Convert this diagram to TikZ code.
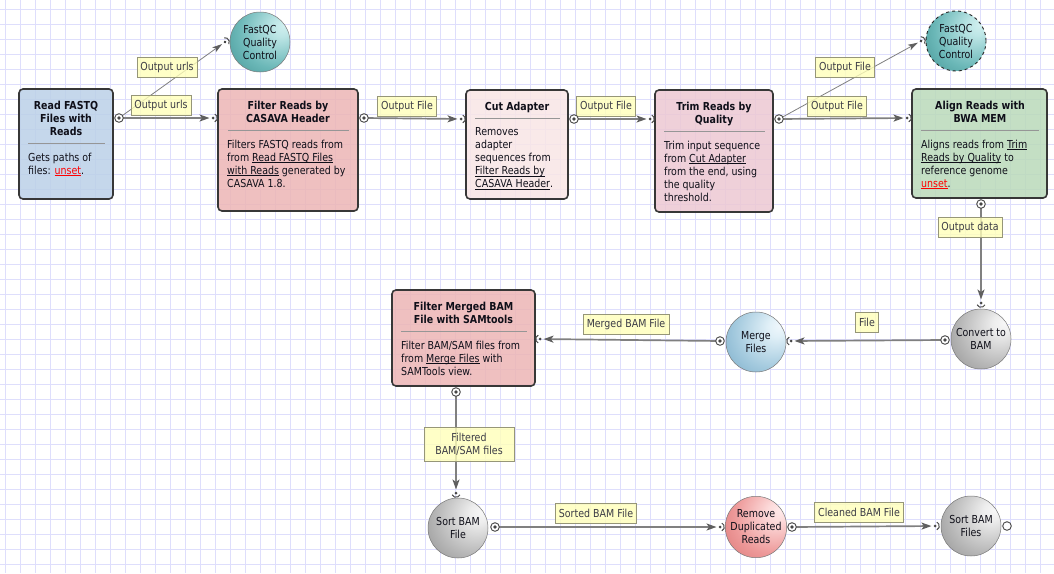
\documentclass[tikz,border=0pt]{standalone}
\usepackage{fontspec}
\setmainfont{DejaVu Sans}[FakeStretch=0.86]
\usetikzlibrary{arrows.meta,shapes.geometric}
\definecolor{gridc}{RGB}{222,222,252}
\definecolor{txt}{RGB}{15,15,25}
\definecolor{boxline}{RGB}{55,55,55}
\definecolor{sepc}{RGB}{150,150,150}
\definecolor{readfill}{RGB}{187,209,232}
\definecolor{casavafill}{RGB}{237,181,181}
\definecolor{cutfill}{RGB}{249,230,230}
\definecolor{trimfill}{RGB}{237,200,211}
\definecolor{alignfill}{RGB}{186,218,186}
\definecolor{connc}{RGB}{128,128,128}
\definecolor{arrowc}{RGB}{95,95,95}
\definecolor{lblfill}{RGB}{255,255,185}
\definecolor{lblline}{RGB}{150,150,120}
\definecolor{lbltxt}{RGB}{60,60,70}
\definecolor{portc}{RGB}{70,70,70}
\definecolor{ballline}{RGB}{120,120,120}
\definecolor{dashc}{RGB}{40,40,40}
\definecolor{unsetred}{RGB}{255,0,0}
\newcommand\lineunder[1]{\setbox0\hbox{#1}\rlap{\rule[-1.7pt]{\wd0}{0.6pt}}\box0\relax}
\pgfdeclareradialshading{grayball}{\pgfpoint{20bp}{14bp}}{rgb(0bp)=(0.97,0.97,0.97); rgb(8bp)=(0.93,0.93,0.93); rgb(30bp)=(0.72,0.72,0.72); rgb(55bp)=(0.5,0.5,0.5); rgb(76bp)=(0.36,0.36,0.36)}
\pgfdeclareradialshading{tealball}{\pgfpoint{20bp}{14bp}}{rgb(0bp)=(0.82,0.94,0.94); rgb(8bp)=(0.74,0.9,0.9); rgb(30bp)=(0.42,0.72,0.72); rgb(55bp)=(0.2,0.52,0.52); rgb(76bp)=(0.08,0.38,0.4)}
\pgfdeclareradialshading{blueball}{\pgfpoint{20bp}{14bp}}{rgb(0bp)=(0.94,0.97,0.99); rgb(8bp)=(0.88,0.94,0.97); rgb(30bp)=(0.64,0.79,0.87); rgb(55bp)=(0.4,0.62,0.75); rgb(76bp)=(0.25,0.5,0.63)}
\pgfdeclareradialshading{redball}{\pgfpoint{20bp}{14bp}}{rgb(0bp)=(1,0.92,0.92); rgb(8bp)=(0.99,0.86,0.86); rgb(30bp)=(0.93,0.6,0.6); rgb(55bp)=(0.83,0.4,0.4); rgb(76bp)=(0.72,0.28,0.28)}
\tikzset{
 box/.style={draw=boxline, line width=1.6pt, rounded corners=4pt, fill opacity=0.85, inner sep=0pt},
 ttl/.style={anchor=north, align=center, inner sep=0pt, font=\fontsize{11pt}{13pt}\selectfont\bfseries, text=txt},
 dsc/.style={anchor=north west, align=left, inner sep=0pt, text=txt},
 sepline/.style={draw=sepc, line width=0.8pt},
 ball/.style={circle, minimum size=60pt, inner sep=0pt, align=center, draw=ballline, line width=0.5pt, text=txt},
 conn/.style={draw=connc, line width=1.7pt, -{Stealth[length=10pt,width=7pt,inset=2.5pt,color=arrowc]}, shorten >=3.5pt},
 thinconn/.style={draw=connc, line width=0.8pt, -{Stealth[length=10pt,width=6pt,inset=2.5pt,color=arrowc]}, shorten >=3.5pt},
 lbl/.style={draw=lblline, fill=lblfill, fill opacity=0.8, text opacity=1, text=lbltxt, inner xsep=3.5pt, inner ysep=2pt, minimum height=20pt, align=center},
 outport/.pic={\fill[white] (0,0) circle (4.3); \draw[portc, line width=0.9pt] (0,0) circle (4.3); \fill[portc] (0,0) circle (1.9);},
 endport/.pic={\fill[white] (0,0) circle (4.3); \draw[portc, line width=0.9pt] (0,0) circle (4.3);},
 inport/.pic={\fill[portc] (0,0) circle (1.5); \draw[portc, line width=1pt] (65:4.3) arc[start angle=65, end angle=-65, radius=4.3];},
}
\begin{document}
\begin{tikzpicture}[x=1pt,y=-1pt,font=\fontsize{11pt}{13pt}\selectfont]
\useasboundingbox (0,0) rectangle (1054,573);
\fill[white] (0,0) rectangle (1054,573);
\foreach \gx in {5,20,...,1050} \draw[gridc, line width=1pt] (\gx,0) -- (\gx,573);
\foreach \gy in {9,24,...,570} \draw[gridc, line width=1pt] (0,\gy) -- (1054,\gy);

% boxes
\node[box, fill=readfill, minimum width=94pt, minimum height=110pt] (read) at (66,144) {};
\node[box, fill=casavafill, minimum width=140pt, minimum height=122pt] (casava) at (288,150) {};
\node[box, fill=cutfill, minimum width=102pt, minimum height=109pt] (cut) at (517,144.5) {};
\node[box, fill=trimfill, minimum width=118pt, minimum height=122pt] (trim) at (714,151) {};
\node[box, fill=alignfill, minimum width=135pt, minimum height=109pt] (align) at (979.5,143.5) {};
\node[box, fill=casavafill, minimum width=143pt, minimum height=96pt] (filtm) at (463.5,338) {};

\draw[sepline] (28,143) -- (105,143);
\draw[sepline] (228,130) -- (349,130);
\draw[sepline] (475,118) -- (560,118);
\draw[sepline] (664,131) -- (765,131);
\draw[sepline] (921,130) -- (1039,130);
\draw[sepline] (401,331) -- (527,331);

\node[ttl] (read-t) at (66,101) {Read FASTQ\\Files with\\Reads};
\node[ttl] (casava-t) at (288,101) {Filter Reads by\\CASAVA Header};
\node[ttl] (cut-t) at (517,102) {Cut Adapter};
\node[ttl] (trim-t) at (714,102) {Trim Reads by\\Quality};
\node[ttl] (align-t) at (980,101) {Align Reads with\\BWA MEM};
\node[ttl] (filtm-t) at (463.5,302) {Filter Merged BAM\\File with SAMtools};

\node[dsc] (read-d) at (28,152.5) {Gets paths of\\files: \textcolor{unsetred}{\lineunder{unset}}.};
\node[dsc] (casava-d) at (227,139.5) {Filters FASTQ reads from\\from \lineunder{Read FASTQ Files}\\\lineunder{with Reads} generated by\\CASAVA 1.8.};
\node[dsc] (cut-d) at (475,127.5) {Removes\\adapter\\sequences from\\\lineunder{Filter Reads by}\\\lineunder{CASAVA Header}.};
\node[dsc] (trim-d) at (664,140.5) {Trim input sequence\\from \lineunder{Cut Adapter}\\from the end, using\\the quality\\threshold.};
\node[dsc] (align-d) at (921,139.5) {Aligns reads from \lineunder{Trim}\\\lineunder{Reads by Quality} to\\reference genome\\\textcolor{unsetred}{\lineunder{unset}}.};
\node[dsc] (filtm-d) at (401,340.5) {Filter BAM/SAM files from\\from \lineunder{Merge Files} with\\SAMTools view.};

% circles
\node[ball, shading=tealball] (fqc1) at (260,42) {FastQC\\Quality\\Control};
\node[ball, shading=tealball, draw=dashc, dashed, line width=0.9pt] (fqc2) at (956,41) {FastQC\\Quality\\Control};
\node[ball, shading=grayball] (convert) at (981,339) {Convert to\\BAM};
\node[ball, shading=blueball] (merge) at (756,342) {Merge\\Files};
\node[ball, shading=grayball] (sortbam) at (458,528) {Sort BAM\\File};
\node[ball, shading=redball] (remdup) at (756,527) {Remove\\Duplicated\\Reads};
\node[ball, shading=grayball] (sortfiles) at (971,526) {Sort BAM\\Files};

% ports
\coordinate (readO) at (119,118);
\coordinate (fqc1I) at (225,42);
\coordinate (casavaI) at (213,118);
\coordinate (casavaO) at (364,118);
\coordinate (cutI) at (461,119);
\coordinate (cutO) at (574,119);
\coordinate (trimI) at (650,119);
\coordinate (trimO) at (779,119);
\coordinate (fqc2I) at (921,41);
\coordinate (alignI) at (907,118);
\coordinate (alignO) at (981,204);
\coordinate (convertI) at (981,303);
\coordinate (convertO) at (945,340);
\coordinate (mergeI) at (791,341);
\coordinate (mergeO) at (720,341);
\coordinate (filtmI) at (540,339);
\coordinate (filtmO) at (456,392);
\coordinate (sortbamI) at (456,493);
\coordinate (sortbamO) at (495,527);
\coordinate (remdupI) at (720,527);
\coordinate (remdupO) at (792,527);
\coordinate (sortfilesI) at (935,526);
\coordinate (sortfilesO) at (1007,526);

% connectors
\draw[thinconn] (readO) -- (fqc1I);
\draw[conn] (readO) -- (casavaI);
\draw[conn] (casavaO) -- (cutI);
\draw[conn] (cutO) -- (trimI);
\draw[thinconn] (trimO) -- (fqc2I);
\draw[conn] (trimO) -- (alignI);
\draw[conn] (alignO) -- (convertI);
\draw[conn] (convertO) -- (mergeI);
\draw[conn] (mergeO) -- (filtmI);
\draw[conn] (filtmO) -- (sortbamI);
\draw[conn] (sortbamO) -- (remdupI);
\draw[conn] (remdupO) -- (sortfilesI);

% labels
\node[lbl] (l1) at (167,67) {Output urls};
\node[lbl] (l2) at (161,105) {Output urls};
\node[lbl] (l3) at (407,106) {Output File};
\node[lbl] (l4) at (606,106) {Output File};
\node[lbl] (l5) at (845,67) {Output File};
\node[lbl] (l6) at (837,106) {Output File};
\node[lbl] (l7) at (970,227) {Output data};
\node[lbl] (l8) at (867,322) {File};
\node[lbl] (l9) at (626,324) {Merged BAM File};
\node[lbl, minimum width=90pt, minimum height=34pt] (l10) at (469,444) {Filtered\\BAM/SAM files};
\node[lbl] (l11) at (596,513) {Sorted BAM File};
\node[lbl] (l12) at (859,512) {Cleaned BAM File};

% port symbols
\foreach \p in {readO,casavaO,cutO,trimO,alignO,convertO,mergeO,filtmO,sortbamO,remdupO} \pic at (\p) {outport};
\pic at (sortfilesO) {endport};
\pic[rotate=35.6] at (fqc1I) {inport};
\pic[rotate=28.8] at (fqc2I) {inport};
\foreach \p in {casavaI,cutI,trimI,alignI,remdupI,sortfilesI} \pic at (\p) {inport};
\foreach \p in {convertI,sortbamI} \pic[rotate=-90] at (\p) {inport};
\foreach \p in {mergeI,filtmI} \pic[rotate=180] at (\p) {inport};
\end{tikzpicture}
\end{document}
